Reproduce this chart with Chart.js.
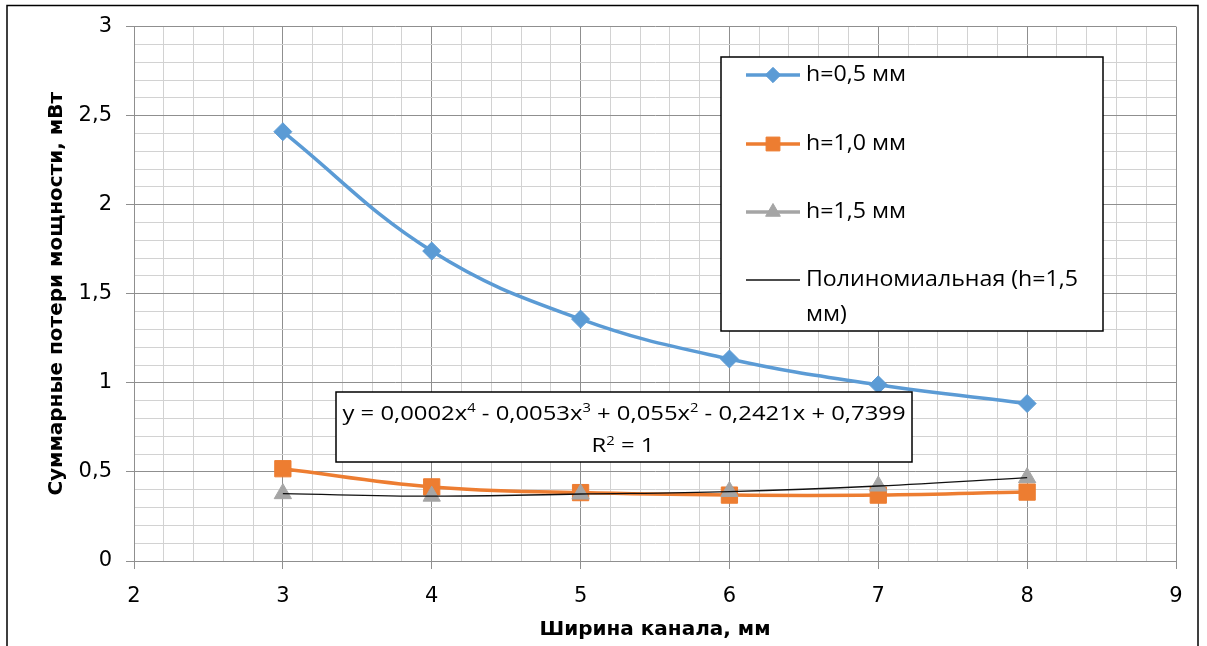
<!DOCTYPE html>
<html><head><meta charset="utf-8">
<script src="https://cdn.jsdelivr.net/npm/chart.js@4/dist/chart.umd.min.js"></script>
<style>html,body{margin:0;padding:0;background:#fff;}canvas{display:block;}</style>
</head><body>
<canvas id="c" width="1207" height="646"></canvas>
<script>
// ---- data ----
const xValues = [3, 4, 5, 6, 7, 8];
const h05 = [2.41, 1.74, 1.358, 1.134, 0.989, 0.884];
const h10 = [0.518, 0.416, 0.384, 0.37, 0.37, 0.387];
const h15 = [0.378, 0.364, 0.376, 0.39, 0.421, 0.468];
const seriesNames = ['h=0,5 мм', 'h=1,0 мм', 'h=1,5 мм', 'Полиномиальная (h=1,5', 'мм)'];
const xTicksMajor = [2, 3, 4, 5, 6, 7, 8, 9];
const xTitle = 'Ширина канала, мм';
const yTitle = 'Суммарные потери мощности, мВт';
const eqLine1 = [['y = 0,0002x', 0], ['4', 1], [' - 0,0053x', 0], ['3', 1], [' + 0,055x', 0], ['2', 1], [' - 0,2421x + 0,7399', 0]];
const eqLine2 = [['R', 0], ['2', 1], [' = 1', 0]];

const BLUE = '#5B9BD5', ORANGE = '#ED7D31', GRAY = '#A5A5A5';
const FONT = "'Open Sans', sans-serif";
const AXFONT = "'DejaVu Sans', sans-serif";

const pts = arr => xValues.map((x, i) => ({x: x, y: arr[i]}));
const isMajorX = v => Math.abs(v - Math.round(v)) < 1e-6;
const isMajorY = v => Math.abs(v * 2 - Math.round(v * 2)) < 1e-6;

function richWidth(ctx, parts, size) {
  let w = 0;
  parts.forEach(([t, sup]) => { ctx.font = (sup ? size * 0.62 : size) + 'px ' + FONT; w += ctx.measureText(t).width; });
  return w;
}
function drawRich(ctx, parts, cx, cy, size, sx) {
  const w = richWidth(ctx, parts, size);
  ctx.save();
  ctx.translate(cx, cy); ctx.scale(sx, 1);
  let x = -w / 2;
  ctx.textAlign = 'left'; ctx.textBaseline = 'alphabetic';
  parts.forEach(([t, sup]) => {
    ctx.font = (sup ? size * 0.62 : size) + 'px ' + FONT;
    ctx.fillText(t, x, sup ? -size * 0.36 : 0);
    x += ctx.measureText(t).width;
  });
  ctx.restore();
}
function fillStretched(ctx, text, x, y, sx) {
  ctx.save(); ctx.translate(x, y); ctx.scale(sx, 1); ctx.fillText(text, 0, 0); ctx.restore();
}

const overlay = {
  id: 'overlay',
  afterDraw(chart) {
    const ctx = chart.ctx;
    ctx.save();
    // outer frame
    ctx.strokeStyle = '#000'; ctx.lineWidth = 1.5;
    ctx.strokeRect(7, 5.5, 1191, 660);
    // equation box
    ctx.fillStyle = '#fff'; ctx.fillRect(336, 392, 576, 70);
    ctx.strokeStyle = '#000'; ctx.lineWidth = 1.5; ctx.strokeRect(336, 392, 576, 70);
    ctx.fillStyle = '#000';
    const eqSize = 20.5;
    const eqSx = 563 / richWidth(ctx, eqLine1, eqSize);
    drawRich(ctx, eqLine1, 624, 419.5, eqSize, eqSx);
    drawRich(ctx, eqLine2, 623, 452, eqSize, eqSx);
    // legend box
    ctx.fillStyle = '#fff'; ctx.fillRect(721, 57, 382, 274);
    ctx.strokeRect(721, 57, 382, 274);
    const ds = chart.data.datasets;
    const rows = [75, 144, 212, 280];
    const lgSize = 22;
    ctx.font = lgSize + 'px ' + FONT;
    const lgSx = 272 / ctx.measureText(seriesNames[3]).width;
    [0, 1, 2, 3].forEach((di, r) => {
      const d = ds[di];
      const y = rows[r];
      ctx.strokeStyle = d.legendLine; ctx.lineWidth = d.legendWidth;
      ctx.beginPath(); ctx.moveTo(746, y); ctx.lineTo(800, y); ctx.stroke();
      if (d.pointRadius > 0) {
        ctx.fillStyle = d.pointBackgroundColor; ctx.strokeStyle = d.pointBorderColor; ctx.lineWidth = 1;
        Chart.helpers.drawPoint(ctx, {pointStyle: d.pointStyle, radius: d.pointRadius * 0.85, borderWidth: 1, rotation: 0}, 773, y);
      }
      ctx.fillStyle = '#000'; ctx.font = lgSize + 'px ' + FONT; ctx.textAlign = 'left'; ctx.textBaseline = 'middle';
      fillStretched(ctx, seriesNames[di], 806, y, lgSx);
    });
    fillStretched(ctx, seriesNames[4], 806, 315, lgSx);
    ctx.restore();
  }
};

new Chart(document.getElementById('c'), {
  type: 'line',
  data: {
    datasets: [
      {label: seriesNames[0], data: pts(h05), borderColor: BLUE, borderWidth: 3.5, tension: 0.4,
       pointStyle: 'rectRot', pointRadius: 9, pointBackgroundColor: BLUE, pointBorderColor: BLUE, pointBorderWidth: 1,
       legendLine: BLUE, legendWidth: 3.5, order: 3},
      {label: seriesNames[1], data: pts(h10), borderColor: ORANGE, borderWidth: 3.5, tension: 0.4,
       pointStyle: 'rect', pointRadius: 11.5, pointBackgroundColor: ORANGE, pointBorderColor: ORANGE, pointBorderWidth: 1,
       legendLine: ORANGE, legendWidth: 3.5, order: 2},
      {label: seriesNames[2], data: pts(h15), showLine: false, borderColor: GRAY,
       pointStyle: 'triangle', pointRadius: 10, pointBackgroundColor: GRAY, pointBorderColor: GRAY, pointBorderWidth: 1,
       legendLine: GRAY, legendWidth: 3.5, order: 1},
      {label: seriesNames[3] + ' ' + seriesNames[4], data: pts(h15), borderColor: '#111', borderWidth: 1.3, tension: 0.4,
       pointRadius: 0, legendLine: '#111', legendWidth: 1.3, order: 0}
    ]
  },
  options: {
    responsive: false,
    devicePixelRatio: 1,
    animation: false,
    layout: {padding: {left: 0, top: 24, right: 31, bottom: 0}},
    plugins: {legend: {display: false}, tooltip: {enabled: false}},
    scales: {
      x: {
        type: 'linear', min: 2, max: 9,
        afterFit: s => { s.height = 85; },
        afterBuildTicks: s => {
          const t = [];
          for (let i = 0; i <= 35; i++) t.push({value: 2 + i * 0.2});
          s.ticks = t;
        },
        ticks: {
          autoSkip: false, maxRotation: 0, padding: 15, color: '#000',
          font: {family: AXFONT, size: 21},
          callback: v => isMajorX(v) && xTicksMajor.includes(Math.round(v)) ? String(Math.round(v)) : ''
        },
        grid: {
          color: c => isMajorX(c.tick.value) ? '#8f8f8f' : '#d2d2d2',
          tickColor: c => isMajorX(c.tick.value) ? '#8f8f8f' : 'rgba(0,0,0,0)',
          tickLength: 8, lineWidth: 1
        },
        border: {color: '#8f8f8f', width: 1},
        title: {display: true, text: xTitle, color: '#000', font: {family: AXFONT, size: 20, weight: 'bold'}, padding: {top: 0, bottom: 4}}
      },
      y: {
        min: 0, max: 3,
        afterFit: s => { s.width = 134; },
        afterBuildTicks: s => {
          const t = [];
          for (let i = 0; i <= 30; i++) t.push({value: i / 10});
          s.ticks = t;
        },
        ticks: {
          autoSkip: false, padding: 14, color: '#000',
          font: {family: AXFONT, size: 21},
          callback: v => isMajorY(v) ? String(Math.round(v * 2) / 2).replace('.', ',') : ''
        },
        grid: {
          color: c => isMajorY(c.tick.value) ? '#8f8f8f' : '#d2d2d2',
          tickColor: c => isMajorY(c.tick.value) ? '#8f8f8f' : 'rgba(0,0,0,0)',
          tickLength: 8, lineWidth: 1
        },
        border: {color: '#8f8f8f', width: 1},
        title: {display: true, text: yTitle, color: '#000', font: {family: AXFONT, size: 20, weight: 'bold'}, padding: {top: 45, bottom: 0}}
      }
    }
  },
  plugins: [overlay]
});
</script>
</body></html>
